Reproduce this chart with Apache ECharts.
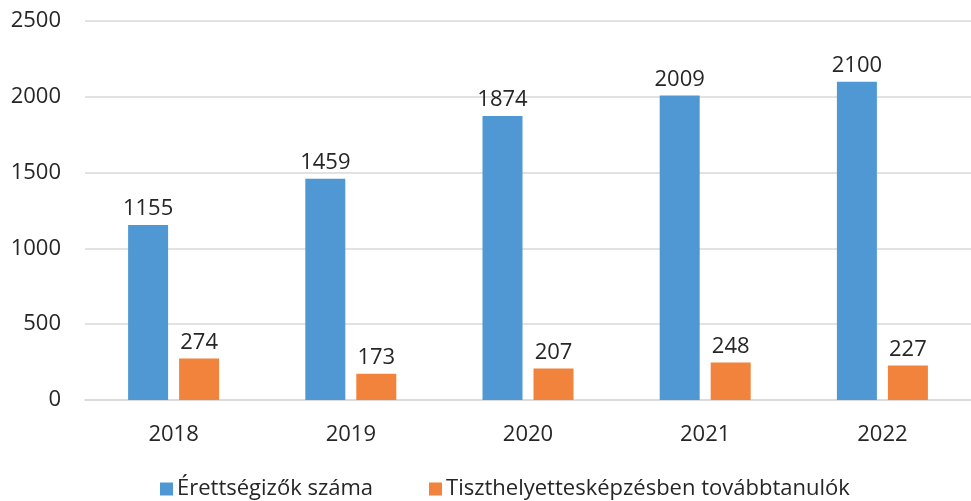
<!DOCTYPE html>
<html><head><meta charset="utf-8">
<script src="https://cdn.jsdelivr.net/npm/echarts@6/dist/echarts.min.js"></script>
<style>html,body{margin:0;padding:0;background:#fff}#c{width:971px;height:501px}</style>
</head><body><div id="c"></div>
<script>
const categories = ['2018','2019','2020','2021','2022'];
const seriesNames = ['Érettségizők száma','Tiszthelyettesképzésben továbbtanulók'];
const erettsegizok = [1155,1459,1874,2009,2100];
const tovabbtanulok = [274,173,207,248,227];
const yTicks = [0,500,1000,1500,2000,2500];

const FONT = '"Open Sans", sans-serif';
const TXT = '#262626';
const FS = 22;
const chart = echarts.init(document.getElementById('c'), null, {renderer:'canvas'});
const lbl = {show:true, position:'top', distance:5, color:TXT, fontSize:FS, fontFamily:FONT};
chart.setOption({
  animation:false,
  textStyle:{fontFamily:FONT},
  grid:{left:85, top:21, width:890, height:379, containLabel:false},
  legend:{
    top:473, left:155, itemWidth:13, itemHeight:13, itemGap:56,
    icon:'rect',
    textStyle:{color:TXT, fontSize:FS, fontFamily:FONT, padding:[0,0,0,-1]},
    data:seriesNames
  },
  xAxis:{
    type:'category', data:categories,
    axisLine:{lineStyle:{color:'#d9d9d9', width:1.5}},
    axisTick:{show:false},
    axisLabel:{color:TXT, fontSize:FS, fontFamily:FONT, margin:24}
  },
  yAxis:{
    type:'value', min:yTicks[0], max:yTicks[yTicks.length-1], interval:500,
    axisLine:{show:false}, axisTick:{show:false},
    splitLine:{lineStyle:{color:'#d9d9d9', width:1.5}},
    axisLabel:{color:TXT, fontSize:FS, fontFamily:FONT, margin:24, formatter:v=>String(v)}
  },
  series:[
    {name:seriesNames[0], type:'bar', data:erettsegizok, barWidth:40, barGap:'27.5%',
     itemStyle:{color:'#5098d4'}, label:lbl},
    {name:seriesNames[1], type:'bar', data:tovabbtanulok, barWidth:40,
     itemStyle:{color:'#f1833d'}, label:lbl}
  ]
});
</script></body></html>
